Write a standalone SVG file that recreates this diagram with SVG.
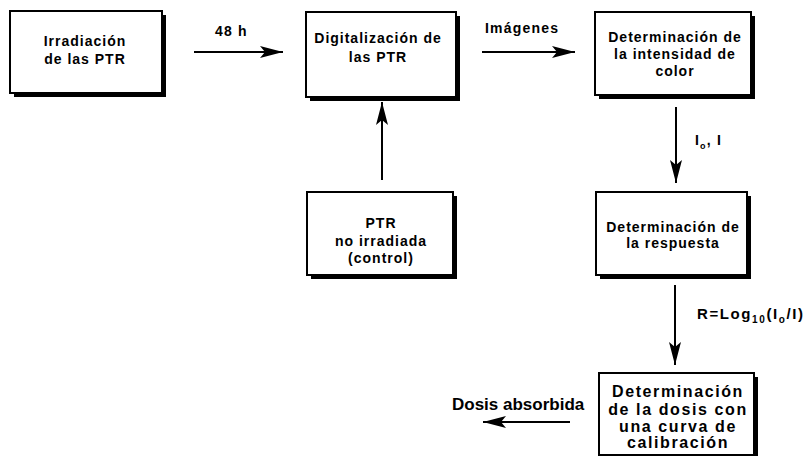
<svg xmlns="http://www.w3.org/2000/svg" width="807" height="456" viewBox="0 0 807 456">
<defs>
<marker id="ah" markerWidth="24" markerHeight="14" refX="23" refY="7" orient="auto" markerUnits="userSpaceOnUse">
<path d="M23,7 L0,1 L5,7 L0,13 Z" fill="#000"/>
</marker>
</defs>
<style>
.shadow{fill:#000}
.box{fill:#fff;stroke:#000;stroke-width:2}
.t{font-family:"Liberation Sans",Arial,sans-serif;font-weight:bold;font-size:14px;letter-spacing:1px;fill:#000;text-anchor:middle}
.big{font-size:16px;letter-spacing:1.6px}
.lbl{font-family:"Liberation Sans",Arial,sans-serif;font-weight:bold;font-size:14px;letter-spacing:1.2px;fill:#000}
.edge{stroke:#000;stroke-width:2;fill:none;marker-end:url(#ah)}
</style>
<rect width="807" height="456" fill="#fff"/>

<g id="n1">
<rect class="shadow" x="14" y="15" width="152" height="82"/>
<rect class="box" x="10" y="11" width="152" height="82"/>
<text class="t" x="85" y="46">Irradiación</text>
<text class="t" x="85" y="64">de las PTR</text>
</g>

<g id="n2">
<rect class="shadow" x="310" y="16" width="150" height="85"/>
<rect class="box" x="306" y="12" width="150" height="85"/>
<text class="t" x="378" y="43">Digitalización de</text>
<text class="t" x="378" y="62">las PTR</text>
</g>

<g id="n3">
<rect class="shadow" x="599" y="16" width="156" height="83"/>
<rect class="box" x="595" y="12" width="156" height="83"/>
<text class="t" x="675" y="42">Determinación de</text>
<text class="t" x="675" y="59">la intensidad de</text>
<text class="t" x="675" y="76">color</text>
</g>

<g id="n4">
<rect class="shadow" x="311" y="196" width="146" height="83"/>
<rect class="box" x="307" y="192" width="146" height="83"/>
<text class="t" x="381" y="228">PTR</text>
<text class="t" x="381" y="246">no irradiada</text>
<text class="t" x="381" y="263">(control)</text>
</g>

<g id="n5">
<rect class="shadow" x="600" y="196" width="151" height="83"/>
<rect class="box" x="596" y="192" width="151" height="83"/>
<text class="t" x="673" y="232">Determinación de</text>
<text class="t" x="673" y="248">la respuesta</text>
</g>

<g id="n6">
<rect class="shadow" x="603" y="377" width="155" height="82"/>
<rect class="box" x="599" y="373" width="155" height="82"/>
<text class="t big" x="678" y="397">Determinación</text>
<text class="t big" x="678" y="415">de la dosis con</text>
<text class="t big" x="678" y="432">una curva de</text>
<text class="t big" x="678" y="448">calibración</text>
</g>

<g id="connectors">
<line class="edge" x1="194" y1="52" x2="283" y2="52"/>
<text class="lbl" x="215" y="36">48 h</text>
<line class="edge" x1="482" y1="52" x2="575" y2="52"/>
<text class="lbl" x="485" y="33">Imágenes</text>
<line class="edge" x1="382" y1="180" x2="382" y2="102"/>
<line class="edge" x1="676" y1="107" x2="676" y2="183"/>
<text class="lbl" x="695" y="145">I<tspan font-size="9" dy="4">o</tspan><tspan dy="-4">, I</tspan></text>
<line class="edge" x1="675" y1="285" x2="675" y2="365"/>
<text class="lbl" x="697" y="319" style="font-size:15px;letter-spacing:1.6px">R=Log<tspan font-size="10" dy="4">10</tspan><tspan dy="-4">(I</tspan><tspan font-size="10" dy="4">o</tspan><tspan dy="-4">/I)</tspan></text>
<line class="edge" x1="570" y1="422" x2="483" y2="422"/>
<text class="lbl" x="452" y="410" style="font-size:17px;letter-spacing:0">Dosis absorbida</text>
</g>
</svg>
